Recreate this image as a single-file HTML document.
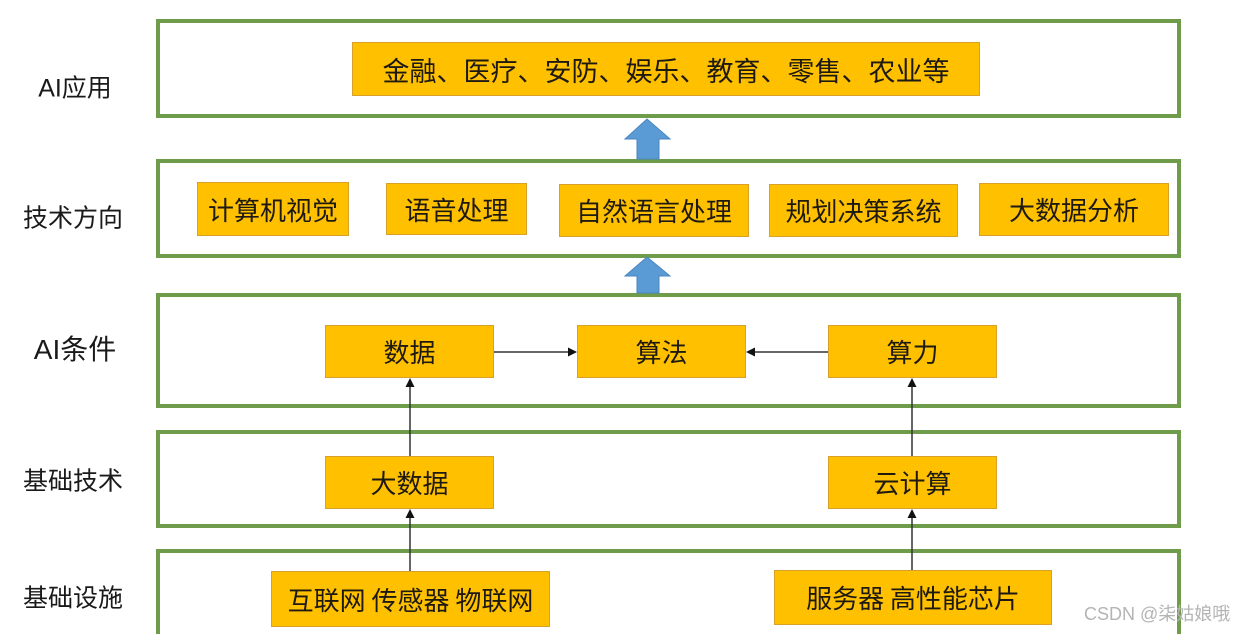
<!DOCTYPE html>
<html style="width:1251px;height:634px;overflow:hidden;margin:0;padding:0;"><head><meta charset="utf-8">
<style>
html,body{margin:0;padding:0;background:#fff;}
body{width:1251px;height:634px;overflow:hidden;font-family:"Liberation Sans","Noto Sans CJK SC",sans-serif;}
#wrap{position:relative;width:1251px;height:634px;overflow:hidden;}
.row{position:absolute;left:156px;width:1017px;border:4px solid #6f9c4b;box-sizing:content-box;}
.b{position:absolute;background:#ffc000;border:1px solid #d8a22a;box-sizing:border-box;display:flex;align-items:center;justify-content:center;color:#1e1a12;font-family:"Noto Sans CJK SC","WenQuanYi Zen Hei",sans-serif;font-size:26px;white-space:nowrap;}
.lbl{position:absolute;color:#1a1a1a;font-family:"Liberation Sans","Noto Sans CJK SC",sans-serif;font-size:25px;white-space:nowrap;line-height:1;transform:translate(-50%,-50%);}
svg{position:absolute;left:0;top:0;}
.wm{position:absolute;left:1084px;top:605px;font-size:18px;color:#b4b4b4;font-family:"Liberation Sans","Noto Sans CJK SC",sans-serif;white-space:nowrap;line-height:1;}
</style></head><body>
<div id="wrap">

<div class="row" style="top:19px;height:91px;"></div>
<div class="row" style="top:159px;height:91px;"></div>
<div class="row" style="top:293px;height:107px;"></div>
<div class="row" style="top:430px;height:90px;"></div>
<div class="row" style="top:549px;height:81px;border-bottom:none;"></div>

<div class="lbl" style="left:75px;top:89px;">AI应用</div>
<div class="lbl" style="left:73px;top:219px;">技术方向</div>
<div class="lbl" style="left:75px;top:350px;font-size:28px;">AI条件</div>
<div class="lbl" style="left:73px;top:482px;">基础技术</div>
<div class="lbl" style="left:73px;top:599px;">基础设施</div>

<div class="b" style="left:352px;top:42px;width:628px;height:54px;font-size:27px;">金融、医疗、安防、娱乐、教育、零售、农业等</div>

<div class="b" style="left:197px;top:182px;width:152px;height:54px;">计算机视觉</div>
<div class="b" style="left:386px;top:183px;width:141px;height:52px;">语音处理</div>
<div class="b" style="left:559px;top:184px;width:190px;height:53px;">自然语言处理</div>
<div class="b" style="left:769px;top:184px;width:189px;height:53px;">规划决策系统</div>
<div class="b" style="left:979px;top:183px;width:190px;height:53px;">大数据分析</div>

<div class="b" style="left:325px;top:325px;width:169px;height:53px;">数据</div>
<div class="b" style="left:577px;top:325px;width:169px;height:53px;">算法</div>
<div class="b" style="left:828px;top:325px;width:169px;height:53px;">算力</div>

<div class="b" style="left:325px;top:456px;width:169px;height:53px;">大数据</div>
<div class="b" style="left:828px;top:456px;width:169px;height:53px;">云计算</div>

<div class="b" style="left:271px;top:571px;width:279px;height:56px;">互联网 传感器 物联网</div>
<div class="b" style="left:774px;top:570px;width:278px;height:55px;">服务器 高性能芯片</div>

<svg width="1251" height="634" viewBox="0 0 1251 634">
  <polygon points="647,119 670,139 659,139 659,159 637,159 637,139 625,139" fill="#5b9bd5" stroke="#4a86c0" stroke-width="1"/>
  <polygon points="647,257 670,276 659,276 659,293 637,293 637,276 625,276" fill="#5b9bd5" stroke="#4a86c0" stroke-width="1"/>
  <g stroke="#333" stroke-width="1.5" fill="#111">
    <line x1="494" y1="352" x2="569" y2="352"/>
    <polygon points="577,352 568,347.5 568,356.5" stroke="none"/>
    <line x1="828" y1="352" x2="754" y2="352"/>
    <polygon points="746,352 755,347.5 755,356.5" stroke="none"/>
    <line x1="410" y1="456" x2="410" y2="386"/>
    <polygon points="410,378 405.5,387 414.5,387" stroke="none"/>
    <line x1="410" y1="571" x2="410" y2="517"/>
    <polygon points="410,509 405.5,518 414.5,518" stroke="none"/>
    <line x1="912" y1="456" x2="912" y2="386"/>
    <polygon points="912,378 907.5,387 916.5,387" stroke="none"/>
    <line x1="912" y1="570" x2="912" y2="517"/>
    <polygon points="912,509 907.5,518 916.5,518" stroke="none"/>
  </g>
</svg>

<div class="wm">CSDN @柒姑娘哦</div>
</div>
</body></html>
